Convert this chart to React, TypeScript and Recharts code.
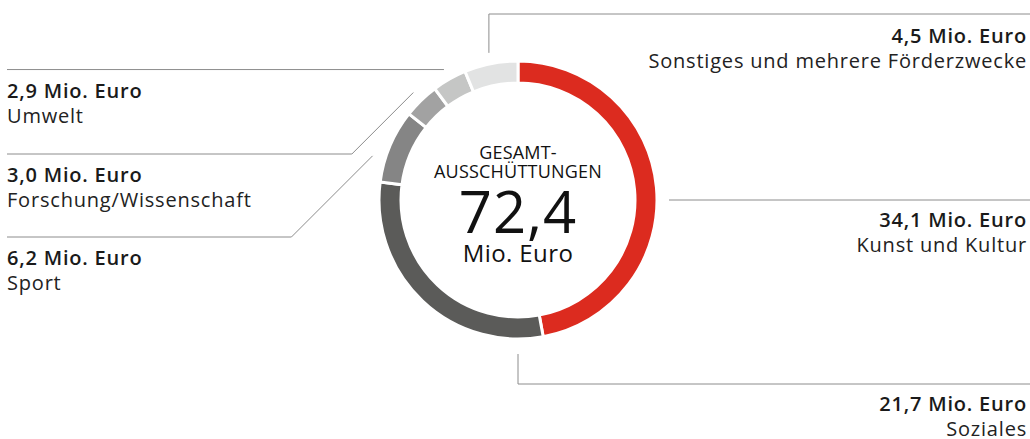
import React from 'react';
import { PieChart, Pie, Cell } from 'recharts';

const categories = [
  'Kunst und Kultur',
  'Soziales',
  'Sport',
  'Forschung/Wissenschaft',
  'Umwelt',
  'Sonstiges und mehrere Förderzwecke',
];
const values = [34.1, 21.7, 6.2, 3.0, 2.9, 4.5];
const colors = ['#dc2b1f', '#5b5b59', '#858585', '#a2a2a2', '#c5c6c5', '#e2e3e3'];
const centerTitle = ['GESAMT-', 'AUSSCHÜTTUNGEN'];
const centerTotal = '72,4';
const unit = 'Mio. Euro';

const W = 1030;
const H = 439;
const FONT = '"Open Sans", sans-serif';
const LINE = '#8c8c8c';

const data = categories.map((name, i) => ({ name, value: values[i] }));

const fmt = (v: number) => `${v.toFixed(1).replace('.', ',')} ${unit}`;

const centerText = (cx: number, cy: number) => (
  <g fontFamily={FONT} fill="#111">
    <text x={cx} y={cy - 41} fontSize={18} letterSpacing={0.2} textAnchor="middle">{centerTitle[0]}</text>
    <text x={cx} y={cy - 22} fontSize={18} letterSpacing={0.2} textAnchor="middle">{centerTitle[1]}</text>
    <text x={cx} y={cy + 33} fontSize={58} letterSpacing={1} textAnchor="middle">{centerTotal}</text>
    <text x={cx} y={cy + 62} fontSize={24} letterSpacing={0.4} fontWeight={500} textAnchor="middle">{unit}</text>
  </g>
);

const renderLabel = (props: any) => {
  const { cx, cy, midAngle, outerRadius, index } = props;
  // Sport-Linie sitzt etwas tiefer als die Segmentmitte
  const ang = index === 2 ? midAngle + 6 : midAngle;
  const rad = (-ang * Math.PI) / 180;
  const at = (r: number) => [cx + r * Math.cos(rad), cy + r * Math.sin(rad)];

  let path = '';
  let tx = 7;
  let ty = 0;
  let anchor: 'start' | 'end' = 'start';

  if (index === 0) {
    path = `M${cx + outerRadius + 12},${cy}H${W}`;
    tx = W - 3;
    ty = cy + 27;
    anchor = 'end';
  } else if (index === 1) {
    path = `M${cx},${cy + outerRadius + 15}V${cy + 184}H${W}`;
    tx = W - 3;
    ty = cy + 211;
    anchor = 'end';
  } else if (index === 2 || index === 3) {
    const [x, y] = at(outerRadius + (index === 2 ? 13 : 11));
    const elbowY = index === 2 ? 237 : 154;
    path = `M${x},${y}L${x - (elbowY - y)},${elbowY}H7`;
    ty = elbowY + 28;
  } else if (index === 4) {
    const [x, y] = at(outerRadius + 11);
    path = `M${x},${y}H7`;
    ty = y + 28;
  } else {
    const [x, y] = at(outerRadius + 11);
    path = `M${x},${y}V14H${W}`;
    tx = W - 3;
    ty = 43;
    anchor = 'end';
  }

  return (
    <g>
      {index === 0 && centerText(cx, cy)}
      <path d={path} stroke={LINE} strokeWidth={1} fill="none" />
      <text x={tx} y={ty} textAnchor={anchor} fontFamily={FONT} fontSize={20} letterSpacing={0.8} fontWeight={600} fill="#1a1a1a">
        {fmt(values[index])}
      </text>
      <text x={tx} y={ty + 25} textAnchor={anchor} fontFamily={FONT} fontSize={20} letterSpacing={0.8} fill="#222">
        {categories[index]}
      </text>
    </g>
  );
};

export default function App() {
  return (
    <div style={{ position: 'absolute', left: 0, top: 0, width: W, height: H, background: '#fff' }}>
      <PieChart width={W} height={H} margin={{ top: 0, right: 0, bottom: 0, left: 0 }}>
        <Pie
          data={data}
          dataKey="value"
          nameKey="name"
          cx={518}
          cy={200}
          innerRadius={117}
          outerRadius={139}
          startAngle={90}
          endAngle={-270}
          stroke="#fff"
          strokeWidth={3}
          label={renderLabel}
          labelLine={false}
          isAnimationActive={false}
        >
          {data.map((d, i) => (
            <Cell key={d.name} fill={colors[i]} />
          ))}
        </Pie>
      </PieChart>
    </div>
  );
}
